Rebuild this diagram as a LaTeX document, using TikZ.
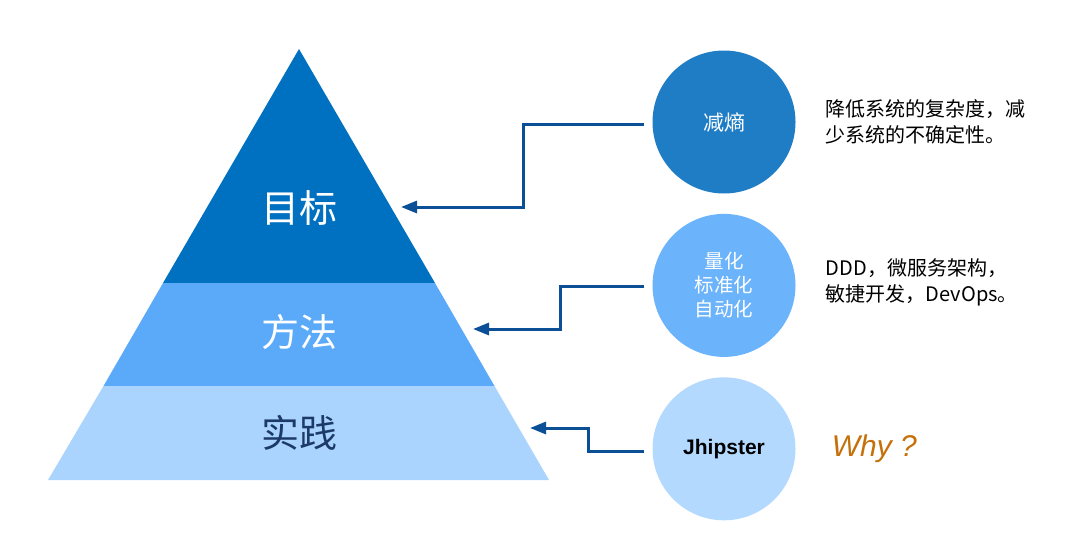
\documentclass[tikz,border=0pt]{standalone}
\usepackage{fontspec}
\setmainfont{Noto Sans CJK SC}
\newfontfamily\arialfont{Liberation Sans}
\usetikzlibrary{positioning, arrows.meta}
\definecolor{layertop}{HTML}{0070C0}
\definecolor{layermid}{HTML}{5AAAF9}
\definecolor{layerlow}{HTML}{AAD3FD}
\definecolor{circone}{HTML}{1F7DC5}
\definecolor{circtwo}{HTML}{6BB3FA}
\definecolor{circthree}{HTML}{B4D9FE}
\definecolor{linkblue}{HTML}{0B4F96}
\definecolor{practicenavy}{HTML}{1B3A66}
\definecolor{whyorange}{HTML}{C5700A}

\begin{document}
\begin{tikzpicture}[
    x=1pt, y=-1pt,
    node distance=20pt,
    layertext/.style={font=\fontsize{38}{38}\selectfont, inner sep=0pt},
    circ/.style={circle, minimum size=143pt, inner sep=0pt, align=center},
    note/.style={align=left, font=\fontsize{20}{26}\selectfont, inner sep=0pt},
    link/.style={draw=linkblue, line width=3pt, -{Triangle[length=16pt,width=12pt]}, shorten <=8pt},
]
\useasboundingbox (0,0) rectangle (1067,552);

% pyramid layers
\fill[layertop] (299,49) -- (435,283) -- (163,283) -- cycle;
\fill[layermid] (163,283) -- (435,283) -- (494.5,386) -- (103.5,386) -- cycle;
\fill[layerlow] (103.5,386) -- (494.5,386) -- (549,480) -- (48,480) -- cycle;

\node[layertext, text=white] (goal) at (299,208) {目标};
\node[layertext, text=white] (method) at (299,332) {方法};
\node[layertext, text=practicenavy] (practice) at (299,433) {实践};

% circles
\node[circ, fill=circone, text=white, font=\fontsize{21}{24}\selectfont] (entropy) at (724,122) {减熵};
\node[circ, fill=circtwo, text=white, font=\fontsize{19.5}{24}\selectfont, below=of entropy] (quantify) {量化\\标准化\\自动化};
\node[circ, fill=circthree, font=\arialfont\bfseries\fontsize{21}{24}\selectfont, below=of quantify] (jhipster) {Jhipster};

% notes
\node[note, right=30pt of entropy] (entropynote) {降低系统的复杂度，减\\少系统的不确定性。};
\node[note, right=30pt of quantify, yshift=3pt] (quantifynote) {DDD，微服务架构，\\敏捷开发，DevOps。};
\node[note, right=36pt of jhipster, font=\arialfont\itshape\fontsize{30}{30}\selectfont, text=whyorange] (why) {Why ?};

% arrow tips
\coordinate (goaltip) at (401,207);
\coordinate (methodtip) at (473,329);
\coordinate (practicetip) at (530,428);

\draw[link] ([yshift=-2pt]entropy.west) -- ++(-128.5,0) |- (goaltip);
\draw[link] ([yshift=-1pt]quantify.west) -- ++(-91.5,0) |- (methodtip);
\draw[link] ([yshift=-3pt]jhipster.west) -- ++(-63.5,0) |- (practicetip);
\end{tikzpicture}
\end{document}
